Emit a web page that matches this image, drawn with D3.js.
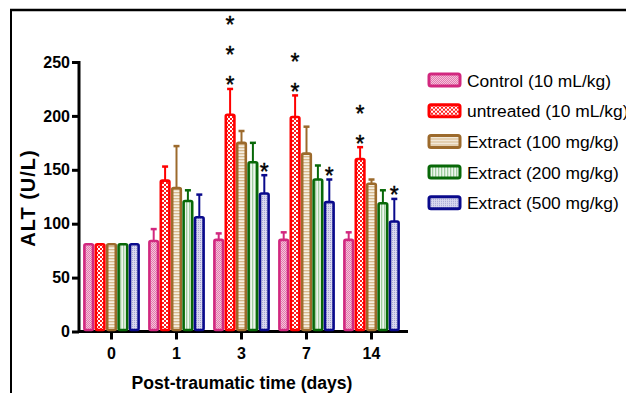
<!DOCTYPE html>
<html>
<head>
<meta charset="utf-8">
<script src="https://cdn.jsdelivr.net/npm/d3@7"></script>
<style>
  html, body { margin: 0; padding: 0; background: #fff; }
  svg { display: block; font-family: "Liberation Sans", Arial, sans-serif; }
</style>
</head>
<body>
<svg id="chart" width="626" height="393"></svg>
<script>
const days = ["0", "1", "3", "7", "14"];
const groups = ["Control (10 mL/kg)", "untreated (10 mL/kg)", "Extract (100 mg/kg)", "Extract (200 mg/kg)", "Extract (500 mg/kg)"];
const means = [
  [81, 84, 85, 85, 85],
  [81, 140, 201, 199, 160],
  [81, 133, 175, 165, 137],
  [81, 121, 157, 141, 119],
  [81, 106, 128, 120, 102]
];
const errs = [
  [0, 11, 6, 7, 7],
  [0, 13, 24, 20, 11],
  [0, 39, 11, 25, 4],
  [0, 10, 18, 13, 12],
  [0, 21, 17, 21, 21]
];
const stars = [
  [0, 0, 0, 0, 0],
  [0, 0, 3, 2, 2],
  [0, 0, 0, 0, 0],
  [0, 0, 0, 0, 0],
  [0, 0, 1, 1, 1]
];
const yTicks = [0, 50, 100, 150, 200, 250];

const strokeColors = ["#d2287f", "#ff0000", "#9c6a2c", "#086808", "#0a0a8c"];

const svg = d3.select("#chart");

// frame
svg.append("line").attr("x1", 10).attr("x2", 626).attr("y1", 10).attr("y2", 10).attr("stroke", "#000").attr("stroke-width", 2.5);
svg.append("line").attr("x1", 11).attr("x2", 11).attr("y1", 9).attr("y2", 393).attr("stroke", "#000").attr("stroke-width", 2);

// fill patterns
const defs = svg.append("defs");
const p0 = defs.append("pattern").attr("id", "pat0").attr("patternUnits", "userSpaceOnUse").attr("width", 2).attr("height", 2);
p0.append("rect").attr("width", 2).attr("height", 2).attr("fill", "#f6c4dc");
p0.append("rect").attr("width", 1).attr("height", 1).attr("fill", "#e27aae");
p0.append("rect").attr("x", 1).attr("y", 1).attr("width", 1).attr("height", 1).attr("fill", "#e27aae");
const p1 = defs.append("pattern").attr("id", "pat1").attr("patternUnits", "userSpaceOnUse").attr("width", 4).attr("height", 4);
p1.append("rect").attr("width", 4).attr("height", 4).attr("fill", "#fff");
p1.append("rect").attr("width", 2).attr("height", 2).attr("fill", "#ff1a1a");
p1.append("rect").attr("x", 2).attr("y", 2).attr("width", 2).attr("height", 2).attr("fill", "#ff1a1a");
const p2 = defs.append("pattern").attr("id", "pat2").attr("patternUnits", "userSpaceOnUse").attr("width", 3).attr("height", 3);
p2.append("rect").attr("width", 3).attr("height", 3).attr("fill", "#f6efe2");
p2.append("rect").attr("width", 3).attr("height", 1.3).attr("fill", "#d6b98e");
const p3 = defs.append("pattern").attr("id", "pat3").attr("patternUnits", "userSpaceOnUse").attr("width", 3).attr("height", 3);
p3.append("rect").attr("width", 3).attr("height", 3).attr("fill", "#eef6ee");
p3.append("rect").attr("width", 1.3).attr("height", 3).attr("fill", "#9fcc9f");
const p4 = defs.append("pattern").attr("id", "pat4").attr("patternUnits", "userSpaceOnUse").attr("width", 2).attr("height", 2);
p4.append("rect").attr("width", 2).attr("height", 2).attr("fill", "#d8d8ee");
p4.append("rect").attr("width", 1).attr("height", 1).attr("fill", "#a4a4d4");

// scales
const x0 = d3.scaleBand().domain(days).range([79, 404]).paddingInner(0.123).paddingOuter(0.0615);
const x1 = d3.scaleBand().domain(d3.range(groups.length)).range([0, x0.bandwidth()]);
const y = d3.scaleLinear().domain([0, 250]).range([331.5, 62]);

// axes
const yAxis = svg.append("g").attr("transform", "translate(79,0)")
  .call(d3.axisLeft(y).tickValues(yTicks).tickSize(7).tickPadding(2).tickSizeOuter(0));
yAxis.select(".domain").attr("stroke-width", 3).attr("d", `M0,${y(0) + 1.5}V${y(250) - 1}`);
yAxis.selectAll(".tick line").attr("stroke-width", 3);
yAxis.selectAll(".tick text").attr("font-size", 16).attr("font-weight", "bold").attr("fill", "#000")
  .attr("font-family", "Liberation Sans, Arial, sans-serif");

const xAxis = svg.append("g").attr("transform", `translate(0,${y(0)})`)
  .call(d3.axisBottom(x0).tickSize(8).tickPadding(8).tickSizeOuter(0));
xAxis.select(".domain").attr("stroke-width", 3).attr("d", "M79,0H408");
xAxis.selectAll(".tick line").attr("stroke-width", 3);
xAxis.selectAll(".tick text").attr("font-size", 16).attr("font-weight", "bold").attr("fill", "#000")
  .attr("font-family", "Liberation Sans, Arial, sans-serif");

// bars
const bw = x1.bandwidth();
const inner = 8.6;
groups.forEach((g, gi) => {
  const layer = svg.append("g");
  days.forEach((d, di) => {
    const cx = x0(d) + x1(gi) + bw / 2;
    const v = means[gi][di];
    const e = errs[gi][di];
    const col = strokeColors[gi];
    if (e > 0) {
      layer.append("line").attr("x1", cx).attr("x2", cx).attr("y1", y(v)).attr("y2", y(v + e))
        .attr("stroke", col).attr("stroke-width", 2);
      layer.append("line").attr("x1", cx - 3).attr("x2", cx + 3).attr("y1", y(v + e)).attr("y2", y(v + e))
        .attr("stroke", col).attr("stroke-width", 2.5);
    }
    layer.append("rect").attr("x", cx - inner / 2).attr("y", y(v)).attr("width", inner).attr("height", y(0) - y(v) - 1.5)
      .attr("rx", 1.5).attr("fill", `url(#pat${gi})`).attr("stroke", col).attr("stroke-width", 2.6);
    const n = stars[gi][di];
    for (let k = 0; k < n; k++) {
      svg.append("text").attr("x", cx).attr("y", y(v + e) - 9 - k * 30 + 13.5)
        .attr("text-anchor", "middle").attr("font-size", 23).attr("fill", "#000")
        .attr("stroke", "#000").attr("stroke-width", 0.4).text("*");
    }
  });
});

// axis titles
svg.append("text").attr("transform", "translate(35,198) rotate(-90)").attr("text-anchor", "middle")
  .attr("font-size", 20).attr("font-weight", "bold").attr("letter-spacing", 1).attr("fill", "#000").text("ALT (U/L)");
svg.append("text").attr("x", 242).attr("y", 389).attr("text-anchor", "middle")
  .attr("font-size", 17.6).attr("font-weight", "bold").attr("fill", "#000").text("Post-traumatic time (days)");

// legend
const legend = svg.append("g").attr("transform", "translate(429,80)");
groups.forEach((g, gi) => {
  const row = legend.append("g").attr("transform", `translate(0,${gi * 30.7})`);
  row.append("rect").attr("x", 0).attr("y", -6).attr("width", 31).attr("height", 12).attr("rx", 2)
    .attr("fill", `url(#pat${gi})`).attr("stroke", strokeColors[gi]).attr("stroke-width", 3);
  row.append("text").attr("x", 38).attr("y", 6.5).attr("font-size", 17.4).attr("fill", "#000").text(g);
});
</script>
</body>
</html>
